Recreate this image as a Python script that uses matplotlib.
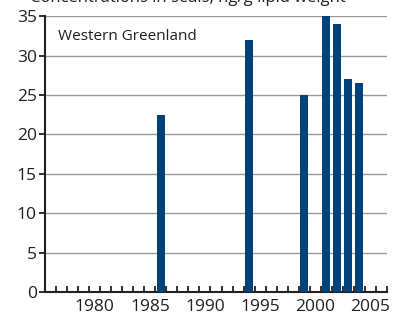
import numpy as np
import matplotlib
matplotlib.use("Agg")
import matplotlib.pyplot as plt

plt.rcParams["font.family"] = ["Open Sans", "DejaVu Sans"]

years = [1986, 1994, 1999, 2001, 2002, 2003, 2004]
values = [22.5, 32, 25, 35, 34, 27, 26.5]
yticks = [0, 5, 10, 15, 20, 25, 30, 35]
xlabels = [1980, 1985, 1990, 1995, 2000, 2005]

bar_color = "#00427a"
text_color = "#231f20"

fig = plt.figure(figsize=(4.03, 3.16), dpi=100)
ax = fig.add_axes([0.112, 0.076, 0.848, 0.873])

ax.bar(years, values, width=0.72, color=bar_color, zorder=3)

ax.set_xlim(1975.5, 2006.5)
ax.set_ylim(0, 35)
ax.set_yticks(yticks)
ax.set_xticks(xlabels)
ax.set_xticks(np.arange(1975.5, 2007, 1), minor=True)

for y in yticks[1:]:
    ax.axhline(y, color="#9a9a9a", lw=1, zorder=1)

for s in ["top", "right"]:
    ax.spines[s].set_visible(False)
for s in ["left", "bottom"]:
    ax.spines[s].set_color(text_color)
    ax.spines[s].set_linewidth(1.5)

ax.tick_params(axis="y", direction="out", length=4, width=1.3, color=text_color,
               labelsize=12.5, labelcolor=text_color, pad=2)
ax.tick_params(axis="x", which="major", length=0, labelsize=12.5,
               labelcolor=text_color, pad=5)
ax.tick_params(axis="x", which="minor", direction="in", length=4, width=1.3,
               color=text_color)

ax.text(0.038, 32.4, "Western Greenland", fontsize=11, color=text_color,
        va="center", ha="left", transform=ax.get_yaxis_transform())

# title sits mostly above the visible area
fig.text(0.465, 0.994, "Concentrations in seals, ng/g lipid weight", fontsize=12,
         color=text_color, ha="center", va="baseline")

fig.savefig("out.png", dpi=100)
